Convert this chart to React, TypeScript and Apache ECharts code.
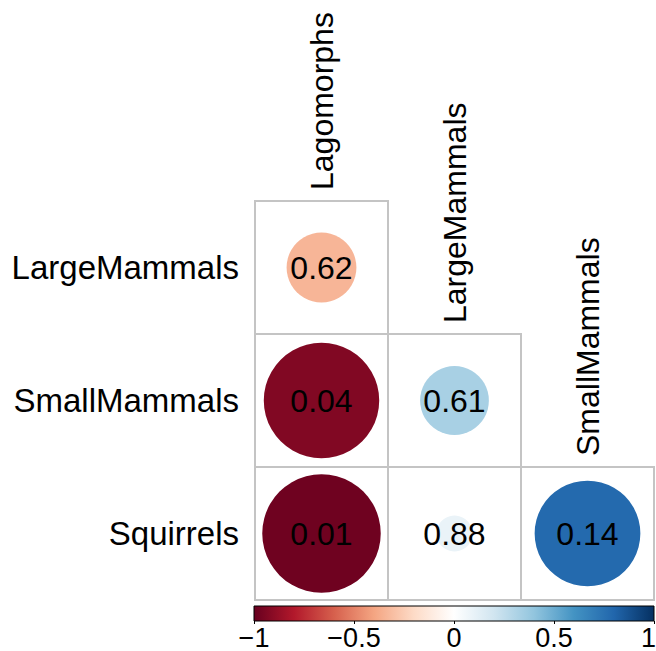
import React, { useEffect, useRef } from "react";
import * as echarts from "echarts";

// Lower-triangle correlation matrix: circle area and colour show r, text shows p.
const rowNames = ["LargeMammals", "SmallMammals", "Squirrels"];
const colNames = ["Lagomorphs", "LargeMammals", "SmallMammals"];
const corrValues = [[-0.34], [-0.93, 0.33], [-0.98, 0.09, 0.78]];
const pValues = [[0.62], [0.04, 0.61], [0.01, 0.88, 0.14]];
const colorbarTicks = [-1, -0.5, 0, 0.5, 1];

const RDBU = [
  "#67001F", "#B2182B", "#D6604D", "#F4A582", "#FDDBC7", "#FFFFFF",
  "#D1E5F0", "#92C5DE", "#4393C3", "#2166AC", "#053061",
];

const FONT = "'Liberation Sans', Arial, Helvetica, sans-serif";
const GRID_LEFT = 255;
const GRID_TOP = 201;
const GRID_SIZE = 399;
const CELL = GRID_SIZE / 3;

export default function App() {
  const ref = useRef<HTMLDivElement>(null);

  useEffect(() => {
    if (!ref.current) return;
    const chart = echarts.init(ref.current, null, { renderer: "svg" });

    const cells: any[] = [];
    rowNames.forEach((_, r) => {
      corrValues[r].forEach((v, c) => {
        cells.push([c, r, v, pValues[r][c]]);
      });
    });
    const diag = colNames.map((_, i) => [i, i]);

    const gradStops = RDBU.map((color, i) => ({ offset: i / (RDBU.length - 1), color }));
    const tickMax = colorbarTicks[colorbarTicks.length - 1];

    chart.setOption({
      animation: false,
      backgroundColor: "#fff",
      grid: [
        {
          left: GRID_LEFT,
          top: GRID_TOP,
          width: GRID_SIZE,
          height: GRID_SIZE,
          containLabel: false,
          outerBoundsMode: "none",
        },
        {
          left: 254,
          top: 606,
          width: 400,
          height: 15,
          containLabel: false,
          outerBoundsMode: "none",
        },
      ],
      xAxis: [
        {
          gridIndex: 0,
          type: "category",
          data: colNames,
          axisLine: { show: false },
          axisTick: { show: false },
          axisLabel: { show: false },
          splitLine: { show: false },
        },
        {
          gridIndex: 1,
          type: "value",
          min: colorbarTicks[0],
          max: tickMax,
          interval: 0.5,
          axisLine: { show: false },
          axisTick: { show: true, length: 3, lineStyle: { color: "#000", width: 1 } },
          axisLabel: {
            margin: 3,
            fontSize: 27,
            fontFamily: FONT,
            color: "#000",
            hideOverlap: false,
            formatter: (v: number) => {
              if (!colorbarTicks.includes(v)) return "";
              const s = String(v).replace("-", "\u2212");
              // keep the last label inside the right edge
              return v === tickMax ? `{edge|${s}}` : s;
            },
            rich: {
              edge: {
                fontSize: 27,
                fontFamily: FONT,
                color: "#000",
                padding: [0, 11, 0, 0],
              },
            },
          },
          splitLine: { show: false },
        },
      ],
      yAxis: [
        {
          gridIndex: 0,
          type: "category",
          data: rowNames,
          inverse: true,
          axisLine: { show: false },
          axisTick: { show: false },
          axisLabel: { margin: 16, fontSize: 33, fontFamily: FONT, color: "#000" },
          splitLine: { show: false },
        },
        {
          gridIndex: 1,
          type: "value",
          min: 0,
          max: 1,
          show: false,
        },
      ],
      visualMap: {
        type: "continuous",
        show: false,
        min: -1,
        max: 1,
        dimension: 2,
        seriesIndex: 1,
        inRange: { color: RDBU },
      },
      series: [
        {
          // cell borders
          type: "custom",
          xAxisIndex: 0,
          yAxisIndex: 0,
          data: cells,
          encode: { x: 0, y: 1 },
          renderItem: (_p: any, api: any) => {
            const pt = api.coord([api.value(0), api.value(1)]);
            const s = api.size([1, 1]);
            return {
              type: "rect",
              shape: { x: pt[0] - s[0] / 2, y: pt[1] - s[1] / 2, width: s[0], height: s[1] },
              style: { fill: "none", stroke: "#C4C4C4", lineWidth: 2 },
            };
          },
          z: 1,
        },
        {
          type: "scatter",
          xAxisIndex: 0,
          yAxisIndex: 0,
          data: cells,
          encode: { x: 0, y: 1 },
          symbol: "circle",
          symbolSize: (val: number[]) => 0.9 * Math.sqrt(Math.abs(val[2])) * CELL,
          itemStyle: { opacity: 1 },
          label: {
            show: true,
            position: "inside",
            fontSize: 32,
            fontFamily: FONT,
            color: "#000",
            formatter: (p: any) => p.value[3].toFixed(2),
          },
          z: 2,
        },
        {
          // column names along the diagonal
          type: "custom",
          xAxisIndex: 0,
          yAxisIndex: 0,
          data: diag,
          encode: { x: 0, y: 1 },
          renderItem: (params: any, api: any) => {
            const pt = api.coord([api.value(0), api.value(1)]);
            const s = api.size([1, 1]);
            return {
              type: "text",
              x: pt[0],
              y: pt[1] - s[1] / 2 - 11,
              rotation: Math.PI / 2,
              style: {
                text: colNames[params.dataIndex],
                align: "left",
                verticalAlign: "middle",
                fontSize: 32,
                fontFamily: FONT,
                fill: "#000",
              },
            };
          },
          z: 3,
        },
        {
          // colour bar
          type: "custom",
          xAxisIndex: 1,
          yAxisIndex: 1,
          data: [[-1, 0, 1, 1]],
          encode: { x: [0, 2], y: [1, 3] },
          renderItem: (_p: any, api: any) => {
            const a = api.coord([api.value(0), api.value(1)]);
            const b = api.coord([api.value(2), api.value(3)]);
            return {
              type: "rect",
              shape: { x: a[0], y: b[1], width: b[0] - a[0], height: a[1] - b[1] },
              style: {
                fill: new echarts.graphic.LinearGradient(0, 0, 1, 0, gradStops),
                stroke: "#000",
                lineWidth: 1,
              },
            };
          },
        },
      ],
    });

    return () => chart.dispose();
  }, []);

  return (
    <div
      ref={ref}
      style={{ position: "fixed", left: 0, top: 0, width: 656, height: 651 }}
    />
  );
}
